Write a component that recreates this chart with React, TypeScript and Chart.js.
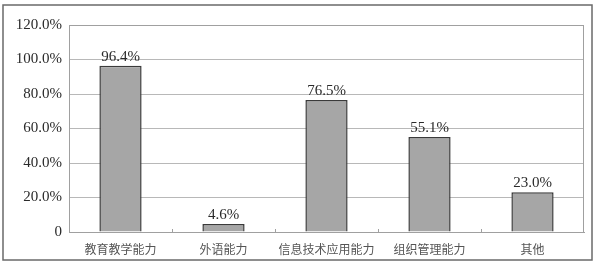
import { useEffect, useRef } from "react";
import { Chart, registerables } from "chart.js";
Chart.register(...registerables);

const categories = ["教育教学能力", "外语能力", "信息技术应用能力", "组织管理能力", "其他"];
const values = [96.4, 4.6, 76.5, 55.1, 23.0];
const yMin = 0;
const yMax = 120;
const yStep = 20;

const SERIF = "'Liberation Serif', 'DejaVu Serif', serif";
const CJK = "'Noto Sans CJK SC', sans-serif";

export default function App() {
  const ref = useRef<HTMLCanvasElement>(null);
  useEffect(() => {
    document.body.style.margin = "0";
    const frame = {
      id: "frame",
      beforeDraw(chart: any) {
        const ctx = chart.ctx;
        ctx.save();
        ctx.fillStyle = "#ffffff";
        ctx.fillRect(0, 0, chart.width, chart.height);
        ctx.strokeStyle = "#6a6a6a";
        ctx.lineWidth = 1.5;
        ctx.strokeRect(3, 5, 589, 255);
        ctx.restore();
      },
      afterDatasetsDraw(chart: any) {
        const ctx = chart.ctx;
        const a = chart.chartArea;
        const xs = chart.scales.x;
        ctx.save();
        ctx.strokeStyle = "#a0a0a0";
        ctx.lineWidth = 1;
        ctx.strokeRect(a.left + 0.5, a.top + 0.5, a.right - a.left - 1, a.bottom - a.top);
        for (let i = 1; i < categories.length; i++) {
          const x = Math.round((xs.getPixelForValue(i - 1) + xs.getPixelForValue(i)) / 2) + 0.5;
          ctx.beginPath();
          ctx.moveTo(x, a.bottom);
          ctx.lineTo(x, a.bottom - 3);
          ctx.stroke();
        }
        const meta = chart.getDatasetMeta(0);
        ctx.fillStyle = "#2a2a2a";
        ctx.font = `15px ${SERIF}`;
        ctx.textAlign = "center";
        ctx.textBaseline = "alphabetic";
        meta.data.forEach((bar: any, i: number) => {
          ctx.fillText(values[i].toFixed(1) + "%", bar.x, bar.y - 5);
        });
        ctx.restore();
      },
    };
    const chart = new Chart(ref.current!, {
      type: "bar",
      data: {
        labels: categories,
        datasets: [
          {
            data: values,
            backgroundColor: "#a6a6a6",
            borderColor: "#3a3a3a",
            borderWidth: 1.5,
            borderSkipped: "bottom",
            categoryPercentage: 1,
            barPercentage: 0.41,
          },
        ],
      },
      options: {
        animation: false,
        responsive: false,
        maintainAspectRatio: false,
        layout: { padding: { left: 0, top: 25, right: 12, bottom: 0 } },
        plugins: { legend: { display: false }, tooltip: { enabled: false } },
        scales: {
          x: {
            grid: { display: false, drawTicks: false },
            border: { display: true, color: "#a0a0a0" },
            ticks: { color: "#555", font: { family: CJK, size: 12 }, padding: 10, maxRotation: 0 },
            afterFit: (s: any) => { s.height = 31; },
          },
          y: {
            min: yMin,
            max: yMax,
            grid: { color: "#b8b8b8", drawTicks: false },
            border: { display: true, color: "#a0a0a0" },
            ticks: {
              stepSize: yStep,
              padding: 7,
              color: "#2a2a2a",
              font: { family: SERIF, size: 15 },
              callback: (v: any) => (v === 0 ? "0" : Number(v).toFixed(1) + "%"),
            },
            afterFit: (s: any) => { s.width = 69; },
          },
        },
      },
      plugins: [frame],
    });
    return () => chart.destroy();
  }, []);
  return <canvas ref={ref} width={596} height={263} style={{ display: "block" }} />;
}
